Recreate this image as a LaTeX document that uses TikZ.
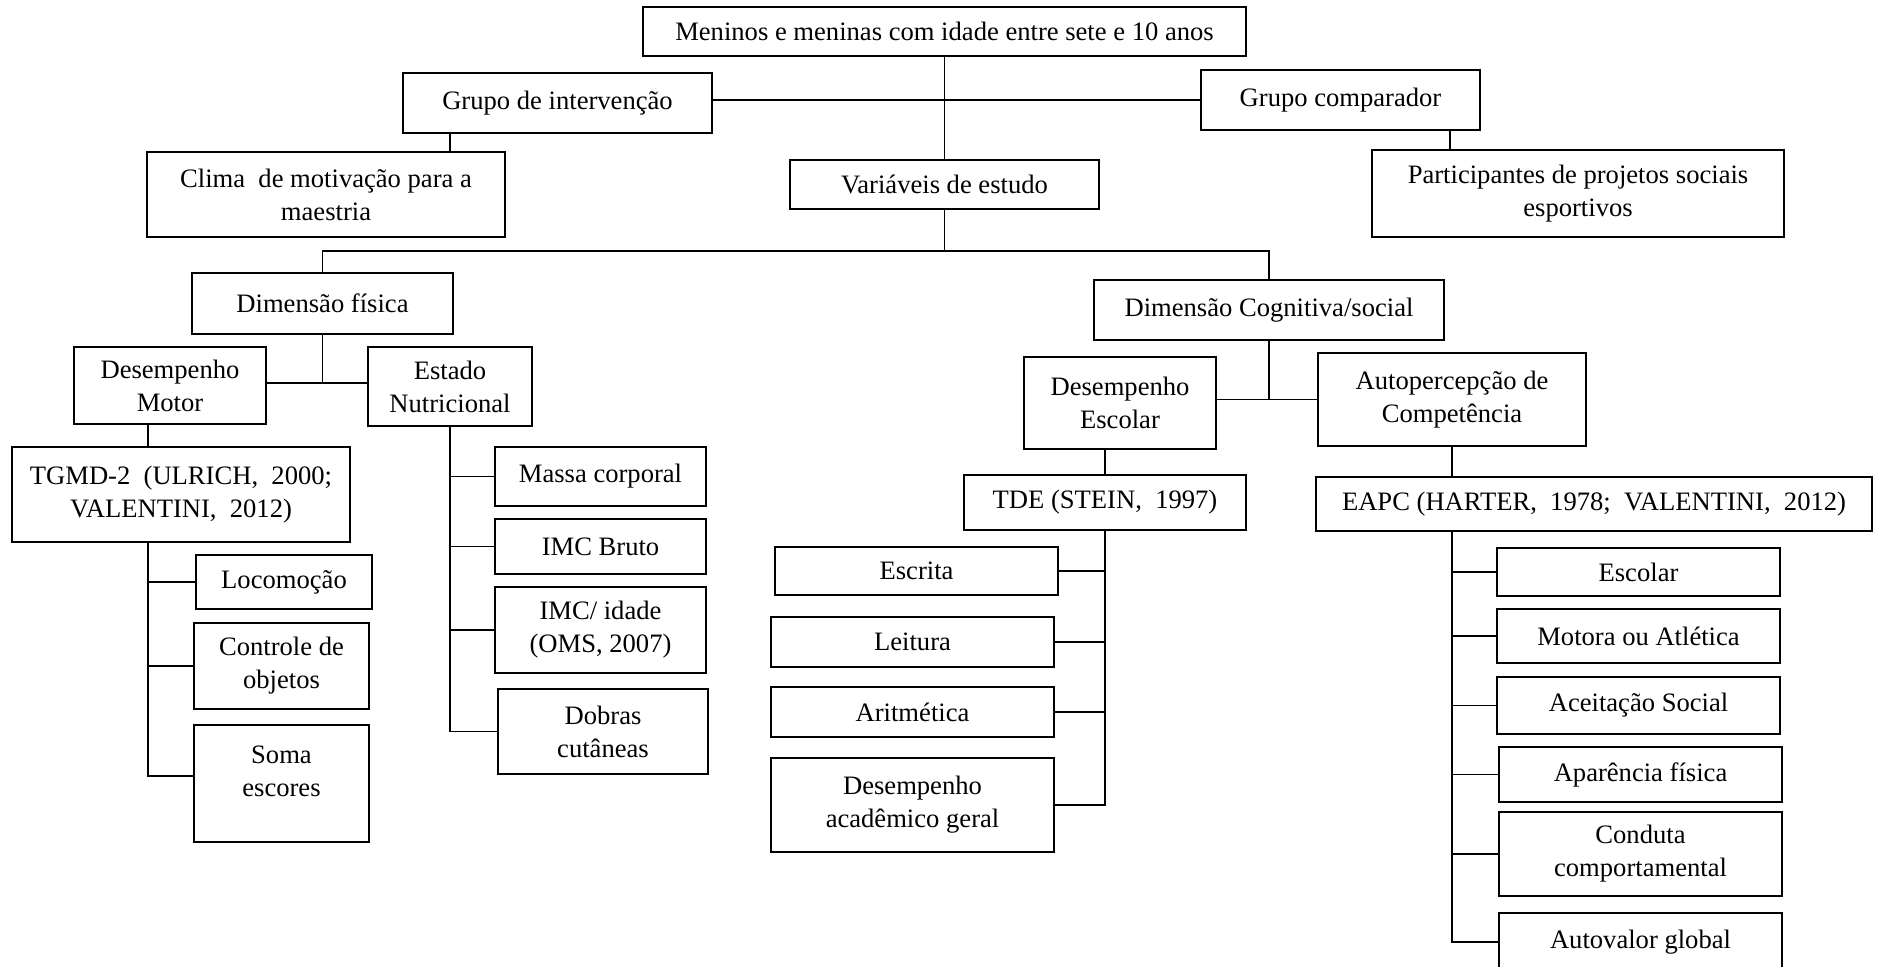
\documentclass[tikz,border=0pt]{standalone}
\usepackage{fontspec}
\setmainfont{Liberation Serif}
\newcommand\mybox[6]{\node[box, minimum width={(#4-#2)*0.5pt}, minimum height={(#5-#3)*0.5pt}] (#1) at ({(#2+#4)/2},{(#3+#5)/2}) {#6};}
\begin{document}
\begin{tikzpicture}[x=0.5pt,y=-0.5pt,
  box/.style={draw=black, line width=0.9pt, rectangle, inner sep=0pt, outer sep=0pt, align=center, font=\fontsize{13.3}{16.5}\selectfont},
  txt/.style={inner sep=0pt, align=center, font=\fontsize{13.3}{16.5}\selectfont},
  link/.style={draw=black, line width=0.9pt}]
\useasboundingbox (0,0) rectangle (1877,966);
\fill[white] (0,0) rectangle (1877,966);
\clip (0,0) rectangle (1877,966);
% boxes
\mybox{top}{643}{7}{1246}{56}{Meninos e meninas com idade entre sete e 10 anos}
\mybox{gi}{403}{73}{712}{133}{Grupo de intervenção}
\mybox{gc}{1201}{70}{1480}{130}{Grupo comparador}
\mybox{clima}{147}{152}{505}{237}{Clima~ de motivação para a\\maestria}
\mybox{part}{1372}{150}{1784}{237}{Participantes de projetos sociais\\esportivos}
\mybox{var}{790}{160}{1099}{209}{Variáveis de estudo}
\mybox{df}{192}{273}{453}{334}{Dimensão física}
\mybox{dc}{1094}{280}{1444}{340}{Dimensão Cognitiva/social}
\mybox{dm}{74}{347}{266}{424}{Desempenho\\Motor}
\mybox{en}{368}{347}{532}{426}{Estado\\Nutricional}
\mybox{tgmd}{12}{447}{350}{542}{TGMD-2~ (ULRICH,~ 2000;\\VALENTINI,~ 2012)}
\mybox{loc}{196}{555}{372}{609}{Locomoção}
\mybox{ctrl}{194}{623}{369}{709}{Controle de\\objetos}
\mybox{soma}{194}{725}{369}{842}{}
\node[txt] at ([yshift=6pt]soma.center) {Soma\\escores};
\mybox{massa}{495}{447}{706}{506}{Massa corporal}
\mybox{imcb}{495}{519}{706}{574}{IMC Bruto}
\mybox{imci}{495}{587}{706}{673}{IMC/ idade\\(OMS, 2007)}
\mybox{dob}{498}{689}{708}{774}{Dobras\\cutâneas}
\mybox{de}{1024}{357}{1216}{449}{Desempenho\\Escolar}
\mybox{ap}{1318}{353}{1586}{446}{Autopercepção de\\Competência}
\mybox{tde}{964}{475}{1246}{530}{TDE (STEIN,~ 1997)}
\mybox{escr}{775}{547}{1058}{595}{Escrita}
\mybox{leit}{771}{617}{1054}{667}{Leitura}
\mybox{arit}{771}{687}{1054}{737}{Aritmética}
\mybox{dag}{771}{758}{1054}{852}{Desempenho\\acadêmico geral}
\mybox{eapc}{1316}{477}{1872}{531}{EAPC (HARTER,~ 1978;~ VALENTINI,~ 2012)}
\mybox{esc}{1497}{548}{1780}{596}{Escolar}
\mybox{mot}{1497}{609}{1780}{663}{Motora ou Atlética}
\mybox{ace}{1497}{677}{1780}{734}{Aceitação Social}
\mybox{apa}{1499}{747}{1782}{802}{Aparência física}
\mybox{con}{1499}{812}{1782}{896}{Conduta\\comportamental}
\mybox{auto}{1499}{913}{1782}{971}{Autovalor global}
% helper coordinates
\coordinate (x450) at (450,0);
\coordinate (x1450) at (1450,0);
\coordinate (x148) at (148,0);
\coordinate (hy) at (0,251);
\coordinate (j2) at (0,383);
\coordinate (sy) at (0,776);
% connectors
\draw[link] (top.south) -- (var.north);
\draw[link] (gi.east |- gc.west) -- (gc.west);
\draw[link] (x450 |- gi.south) -- (x450 |- clima.north);
\draw[link] (x1450 |- gc.south) -- (x1450 |- part.north);
\draw[link] (var.south) -- (var.south |- hy);
\draw[link] (df.north) -- (df.north |- hy) -- (dc.north |- hy) -- (dc.north);
% physical
\draw[link] (df.south) -- (df.south |- j2);
\draw[link] (dm.east |- j2) -- (en.west |- j2);
\draw[link] (x148 |- dm.south) -- (x148 |- tgmd.north);
\draw[link] (x148 |- tgmd.south) -- (x148 |- sy) -- (soma.west |- sy);
\draw[link] (x148 |- loc.west) -- (loc.west);
\draw[link] (x148 |- ctrl.west) -- (ctrl.west);
\draw[link] (en.south) -- (en.south |- dob.west) -- (dob.west);
\draw[link] (en.south |- massa.west) -- (massa.west);
\draw[link] (en.south |- imcb.west) -- (imcb.west);
\draw[link] (en.south |- imci.west) -- (imci.west);
% cognitive
\draw[link] (dc.south) -- (dc.south |- ap.west);
\draw[link] (de.east |- ap.west) -- (ap.west);
\draw[link] (tde.north |- de.south) -- (tde.north);
\draw[link] (tde.south) -- (tde.south |- dag.east) -- (dag.east);
\draw[link] (tde.south |- escr.east) -- (escr.east);
\draw[link] (tde.south |- leit.east) -- (leit.east);
\draw[link] (tde.south |- arit.east) -- (arit.east);
\draw[link] (ap.south) -- (ap.south |- eapc.north);
\draw[link] (ap.south |- eapc.south) -- (ap.south |- auto.west) -- (auto.west);
\draw[link] (ap.south |- esc.west) -- (esc.west);
\draw[link] (ap.south |- mot.west) -- (mot.west);
\draw[link] (ap.south |- ace.west) -- (ace.west);
\draw[link] (ap.south |- apa.west) -- (apa.west);
\draw[link] (ap.south |- con.west) -- (con.west);
\end{tikzpicture}
\end{document}
